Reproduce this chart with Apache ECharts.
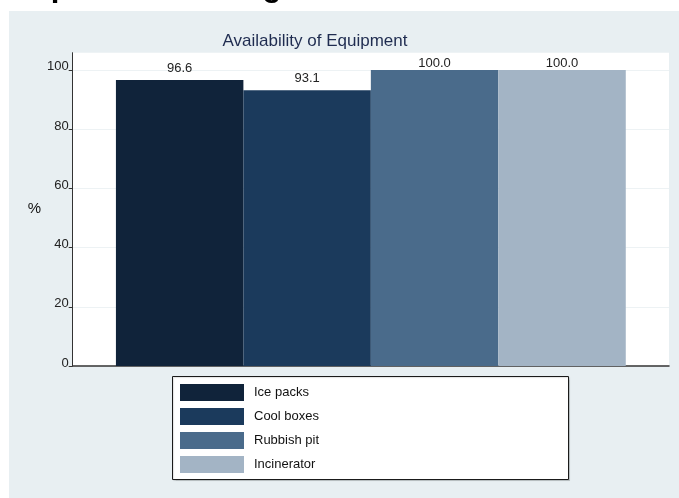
<!DOCTYPE html>
<html>
<head>
<meta charset="utf-8">
<style>
  html, body { margin: 0; padding: 0; background: #ffffff; }
  #chart { width: 679px; height: 498px; }
</style>
<script src="https://cdn.jsdelivr.net/npm/echarts@6/dist/echarts.min.js"></script>
</head>
<body>
<div id="chart"></div>
<script>
// Availability of equipment, percent of facilities
const items = ['Ice packs', 'Cool boxes', 'Rubbish pit', 'Incinerator'];
const availability = [96.6, 93.1, 100.0, 100.0];
const yTicks = [0, 20, 40, 60, 80, 100];

const palette = ['#10233a', '#1b3a5c', '#4a6b8b', '#a3b4c5'];
// value labels on the full-height bars sit tighter against the top of the plot
const labelGap = [5, 5, 0, 0];
const FONT = 'Liberation Sans, Arial, sans-serif';

const chart = echarts.init(document.getElementById('chart'), null, { renderer: 'canvas' });

const series = items.map((name, i) => ({
  name: name,
  type: 'bar',
  data: [availability[i]],
  barGap: '0%',
  barCategoryGap: '14.5%',
  itemStyle: { color: palette[i] },
  label: {
    show: true,
    position: 'top',
    distance: labelGap[i],
    color: '#222222',
    fontFamily: FONT,
    fontSize: 13,
    formatter: p => p.value.toFixed(1)
  },
  emphasis: { disabled: true },
  animation: false
}));

chart.setOption({
  animation: false,
  backgroundColor: '#ffffff',
  graphic: [
    {
      // shaded outer panel
      type: 'rect',
      z: -10,
      shape: { x: 9, y: 11, width: 670, height: 487 },
      style: { fill: '#e8eff2' },
      silent: true
    },
    {
      // overall heading, cut at the top edge
      type: 'text',
      z: -5,
      x: -32,
      y: 3,
      style: {
        text: 'Transport and Storage',
        font: 'bold 31px ' + FONT,
        fill: '#000000',
        verticalAlign: 'bottom'
      },
      silent: true
    },
    {
      // legend frame
      type: 'rect',
      z: 1,
      shape: { x: 172.5, y: 376.5, width: 396, height: 103 },
      style: { fill: '#ffffff', stroke: '#1a1a1a', lineWidth: 1,
               shadowColor: 'rgba(0,0,0,0.12)', shadowOffsetX: 1, shadowOffsetY: 1, shadowBlur: 1 },
      silent: true
    }
  ],
  title: {
    text: 'Availability of Equipment',
    left: 310,
    textAlign: 'center',
    top: 28,
    textStyle: { color: '#1f2c50', fontFamily: FONT, fontSize: 17, fontWeight: 'normal' }
  },
  legend: {
    data: items,
    orient: 'vertical',
    left: 180,
    top: 384,
    z: 5,
    padding: 0,
    itemWidth: 64,
    itemHeight: 17,
    itemGap: 7,
    icon: 'rect',
    selectedMode: false,
    textStyle: { color: '#111111', fontFamily: FONT, fontSize: 13, padding: [0, 0, 0, 5] }
  },
  grid: {
    left: 72.7,
    right: 10,
    top: 52.7,
    bottom: 132,
    show: true,
    backgroundColor: '#ffffff',
    borderWidth: 0
  },
  xAxis: {
    type: 'category',
    data: ['Equipment'],
    axisLine: { show: true, lineStyle: { color: '#333333', width: 1.5 } },
    axisTick: { show: false },
    axisLabel: { show: false },
    splitLine: { show: false }
  },
  yAxis: {
    type: 'value',
    min: 0,
    max: 105.8,
    interval: 20,
    name: '%',
    nameLocation: 'middle',
    nameRotate: 0,
    nameGap: 31,
    nameTextStyle: { color: '#111111', fontFamily: FONT, fontSize: 15 },
    axisLine: { show: true, lineStyle: { color: '#333333', width: 1 } },
    axisTick: { show: true, length: 4, customValues: yTicks, lineStyle: { color: '#333333' } },
    axisLabel: {
      customValues: yTicks,
      margin: 4,
      color: '#222222',
      fontFamily: FONT,
      fontSize: 13,
      verticalAlign: 'bottom',
      lineHeight: 6
    },
    splitLine: { show: true, lineStyle: { color: '#edf2f4', width: 1 } }
  },
  series: series
});
</script>
</body>
</html>
